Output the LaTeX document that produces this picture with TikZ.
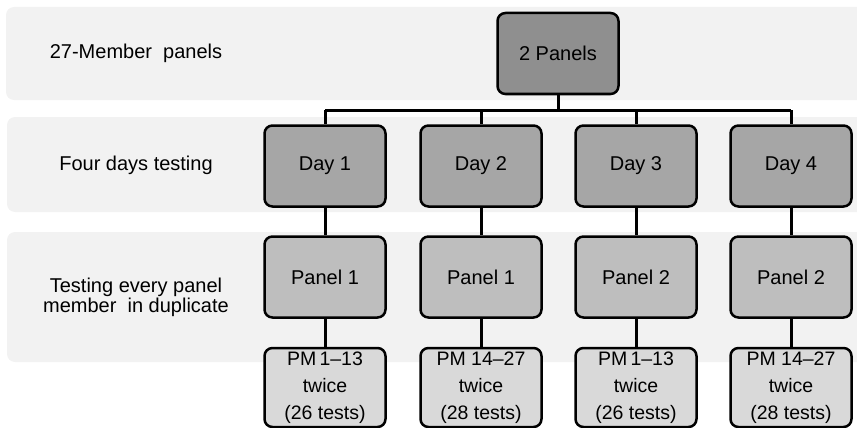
\documentclass[tikz,border=0pt]{standalone}
\usepackage{fontspec}
\setmainfont{Liberation Sans}
\usetikzlibrary{positioning,calc}

\definecolor{bandgray}{HTML}{F2F2F2}
\definecolor{topgray}{HTML}{8F8F8F}
\definecolor{daygray}{HTML}{A6A6A6}
\definecolor{panelgray}{HTML}{BEBEBE}
\definecolor{pmgray}{HTML}{D9D9D9}

\begin{document}
\begin{tikzpicture}[
		x=1pt, y=-1pt,
		every node/.style={font=\fontsize{20}{24}\selectfont},
		box/.style={draw=black, line width=2.5pt, rounded corners=8pt,
			minimum width=121pt, minimum height=81pt, inner sep=0pt, align=center},
		band/.style={fill=bandgray, rounded corners=8pt},
		link/.style={line width=3pt}
	]

		\useasboundingbox (0,0) rectangle (857,428);
		\clip (0,0) rectangle (857,428);

		% background bands
		\fill[band] (6,7) rectangle (880,100);
		\fill[band] (7,117) rectangle (880,212);
		\fill[band] (7,232) rectangle (880,362);

		% row labels
		\node (L1) at (136,53) {27-Member\ \ panels};
		\node (L2) at (136,165) {Four days testing};
		\node[align=center, font=\fontsize{20}{20}\selectfont] (L3) at (136,297) {Testing every panel\\member\ \ in duplicate};

		\node[box, fill=topgray] (P) at (558,53.5) {2 Panels};

		\node[box, fill=daygray] (D1) at (325,166) {Day 1};
		\node[box, fill=daygray] (D2) at (481,166) {Day 2};
		\node[box, fill=daygray] (D3) at (636,166) {Day 3};
		\node[box, fill=daygray] (D4) at (791,166) {Day 4};

		\node[box, fill=panelgray] (Pn1) at (325,277) {Panel 1};
		\node[box, fill=panelgray] (Pn2) at (481,277) {Panel 1};
		\node[box, fill=panelgray] (Pn3) at (636,277) {Panel 2};
		\node[box, fill=panelgray] (Pn4) at (791,277) {Panel 2};

		\node[box, fill=pmgray, minimum height=79pt, font=\fontsize{19.5}{27}\selectfont] (PM1) at (325,387.5) {PM\,1–13\\twice\\(26 tests)};
		\node[box, fill=pmgray, minimum height=79pt, font=\fontsize{19.5}{27}\selectfont] (PM2) at (481,387.5) {PM 14–27\\twice\\(28 tests)};
		\node[box, fill=pmgray, minimum height=79pt, font=\fontsize{19.5}{27}\selectfont] (PM3) at (636,387.5) {PM\,1–13\\twice\\(26 tests)};
		\node[box, fill=pmgray, minimum height=79pt, font=\fontsize{19.5}{27}\selectfont] (PM4) at (791,387.5) {PM 14–27\\twice\\(28 tests)};

		\coordinate (J) at (558,110);
		\draw[link] (P) -- (J);
		\draw[link] (D1.north |- J) -- (D4.north |- J);
		\draw[link] (D1.north |- J) -- (D1);
		\draw[link] (D2.north |- J) -- (D2);
		\draw[link] (D3.north |- J) -- (D3);
		\draw[link] (D4.north |- J) -- (D4);

		\draw[link] (D1) -- (Pn1);
		\draw[link] (D2) -- (Pn2);
		\draw[link] (D3) -- (Pn3);
		\draw[link] (D4) -- (Pn4);

		\draw[link] (Pn1) -- (PM1);
		\draw[link] (Pn2) -- (PM2);
		\draw[link] (Pn3) -- (PM3);
		\draw[link] (Pn4) -- (PM4);
	\end{tikzpicture}
\end{document}
